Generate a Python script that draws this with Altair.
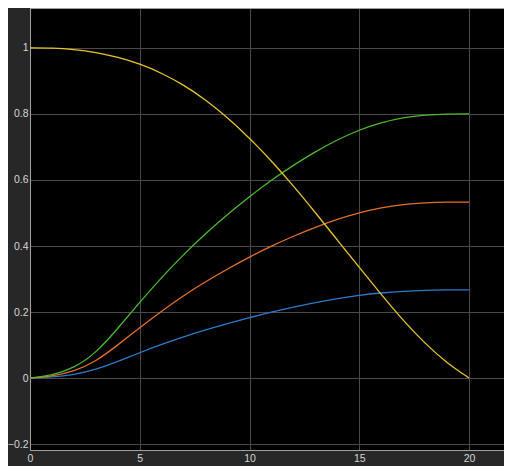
import altair as alt
import pandas as pd

x_vals = list(range(0, 21))
yellow = [1.0, 1.0, 0.996, 0.987, 0.972, 0.952, 0.924, 0.888, 0.843, 0.789, 0.727,
          0.658, 0.582, 0.501, 0.418, 0.335, 0.253, 0.174, 0.104, 0.045, 0.0]
green = [0.0, 0.008, 0.03, 0.075, 0.15, 0.23, 0.305, 0.375, 0.438, 0.496, 0.55,
         0.6, 0.645, 0.686, 0.722, 0.752, 0.774, 0.789, 0.797, 0.8, 0.8]
orange = [0.0, 0.005, 0.02, 0.05, 0.1, 0.153, 0.203, 0.25, 0.292, 0.331, 0.367,
          0.4, 0.43, 0.457, 0.481, 0.501, 0.516, 0.526, 0.531, 0.533, 0.533]
blue = [0.0, 0.003, 0.01, 0.025, 0.05, 0.077, 0.102, 0.125, 0.146, 0.165, 0.183,
        0.2, 0.215, 0.229, 0.241, 0.251, 0.258, 0.263, 0.266, 0.267, 0.267]

x_ticks = [0, 5, 10, 15, 20]
y_ticks = [-0.2, 0, 0.2, 0.4, 0.6, 0.8, 1.0]

series = [("blue", blue, "#2b7bcb"), ("orange", orange, "#e2702a"),
          ("green", green, "#4cb82e"), ("yellow", yellow, "#e6c42a")]

PAD_L = 22
W, H = 474, 442
xs = alt.Scale(domain=[0, 21.59], nice=False, zero=False)
ys = alt.Scale(domain=[-0.218, 1.121], nice=False, zero=False)

label_col = "#d6d6d6"
grid_col = "#4a4a4a"
dom_col = "#a0a0a0"

x_axis = alt.Axis(values=x_ticks, grid=True, gridColor=grid_col, gridWidth=1,
                  domainColor=dom_col, ticks=False, labelColor=label_col,
                  labelFontSize=10.5, labelFont="Liberation Sans", labelPadding=3,
                  title=None, format="~g", labelFlush=False)
y_axis = alt.Axis(values=y_ticks, grid=True, gridColor=grid_col, gridWidth=1,
                  domainColor=dom_col, ticks=False, labelColor=label_col,
                  labelFontSize=10.5, labelFont="Liberation Sans", labelPadding=2,
                  title=None, format="~g", labelFlush=False)

layers = []
for name, vals, col in series:
    df = pd.DataFrame({"x": x_vals, "y": vals})
    layers.append(
        alt.Chart(df).mark_line(color=col, strokeWidth=1.3,
                                interpolate="basis", clip=True).encode(
            x=alt.X("x:Q", scale=xs, axis=x_axis),
            y=alt.Y("y:Q", scale=ys, axis=y_axis),
        )
    )

top_line = alt.Chart(pd.DataFrame({"a": [0]})).mark_rule(color=dom_col, strokeWidth=1).encode(
    x=alt.value(0), x2=alt.value(W), y=alt.value(0.5))

chart = alt.layer(*layers, top_line).properties(
    width=W, height=H,
    autosize=alt.AutoSizeParams(type="none"),
    padding={"left": PAD_L, "top": 0, "right": 0, "bottom": 16},
    background="#272727",
).configure_view(fill="#000000", stroke=None)

chart.save("out.html", embed_options={"renderer": "svg", "actions": False})
